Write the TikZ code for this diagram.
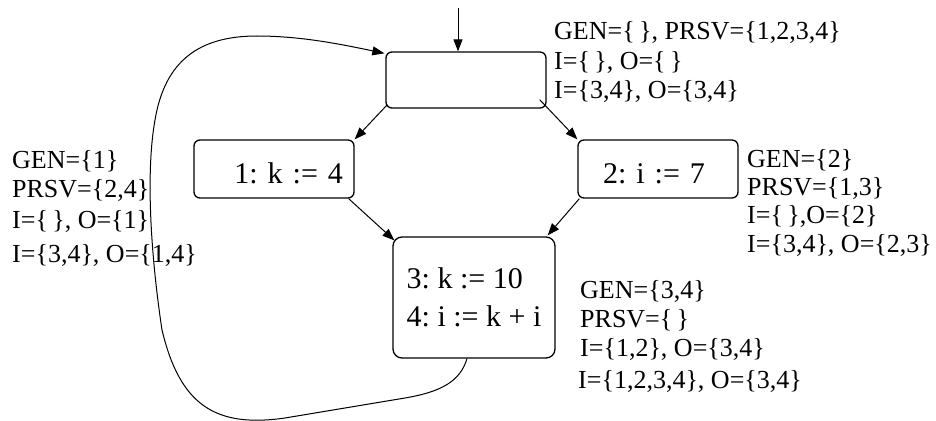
\documentclass[tikz,border=0pt]{standalone}
\usepackage{fontspec}
\setmainfont{Liberation Serif}
\usetikzlibrary{arrows.meta}
\newcommand{\es}{\{\,\}}
\frenchspacing
\begin{document}
\begin{tikzpicture}[x=1pt,y=-1pt,
  arr/.style={line width=1pt,-{Triangle[length=12pt,width=9pt]}},
  blk/.style={draw,line width=1.3pt,rounded corners=6pt,
    font=\fontsize{30}{38}\selectfont},
  lbl/.style={anchor=base west,inner sep=0pt,font=\fontsize{26}{29}\selectfont}]
\useasboundingbox (0,0) rectangle (936,420);

% basic blocks
\node[blk,minimum width=160pt,minimum height=56pt] (b0) at (466,80) {};
\node[blk,minimum width=160pt,minimum height=58pt,text width=138pt,
  inner xsep=11pt,align=right,text height=28pt,text depth=0pt] (b1) at (274,169) {1: k := 4};
\node[blk,minimum width=160pt,minimum height=58pt,text width=110pt,
  inner xsep=25pt,align=left,text height=28pt,text depth=0pt] (b2) at (658,169) {2: i := 7};
\node[blk,rounded corners=9pt,minimum width=162pt,minimum height=121pt,
  inner xsep=4pt,align=left] (b3) at (474,297.5) {3: k := 10\\4: i := k + i};

% edges
\coordinate (in) at (458,8);
\draw[arr] (in) -- (in |- b0.north);
\draw[arr] ([shift={(2,-4)}]b0.south west) -- (b1.north east);
\draw[arr] ([shift={(-7,-9)}]b0.south east) -- (b2.north west);
\draw[arr] ([shift={(-6,0)}]b1.south east) -- ([shift={(2,4)}]b3.north west);
\draw[arr] ([shift={(2,0)}]b2.south west) -- ([shift={(-8,-1)}]b3.north east);
% back edge from the loop body to the header
\draw[arr] ([xshift=-7pt]b3.south) .. controls (460,382) and (440,392) .. (405,398)
  -- (285,418) .. controls (215,428) and (180,405) .. (162,330)
  .. controls (150,250) and (146,170) .. (155,120)
  .. controls (165,60) and (200,36) .. (257,36)
  .. controls (300,36) and (340,44) .. ([shift={(-1,2)}]b0.north west);

% data-flow sets
\node[lbl] (s0a) at (554,40) {GEN=\es, PRSV=\{1,2,3,4\}};
\node[lbl] (s0b) at (554,70) {I=\es, O=\es};
\node[lbl] (s0c) at (554,98) {I=\{3,4\}, O=\{3,4\}};

\node[lbl] (s1a) at (12,168) {GEN=\{1\}};
\node[lbl] (s1b) at (12,197) {PRSV=\{2,4\}};
\node[lbl] (s1c) at (12,228) {I=\es, O=\{1\}};
\node[lbl] (s1d) at (12,262) {I=\{3,4\}, O=\{1,4\}};

\node[lbl] (s2a) at (747,167) {GEN=\{2\}};
\node[lbl] (s2b) at (747,195) {PRSV=\{1,3\}};
\node[lbl] (s2c) at (747,223) {I=\es,O=\{2\}};
\node[lbl] (s2d) at (747,252) {I=\{3,4\}, O=\{2,3\}};

\node[lbl] (s3a) at (580,298) {GEN=\{3,4\}};
\node[lbl] (s3b) at (580,327) {PRSV=\es};
\node[lbl] (s3c) at (580,356) {I=\{1,2\}, O=\{3,4\}};
\node[lbl] (s3d) at (578,388) {I=\{1,2,3,4\}, O=\{3,4\}};
\end{tikzpicture}
\end{document}
